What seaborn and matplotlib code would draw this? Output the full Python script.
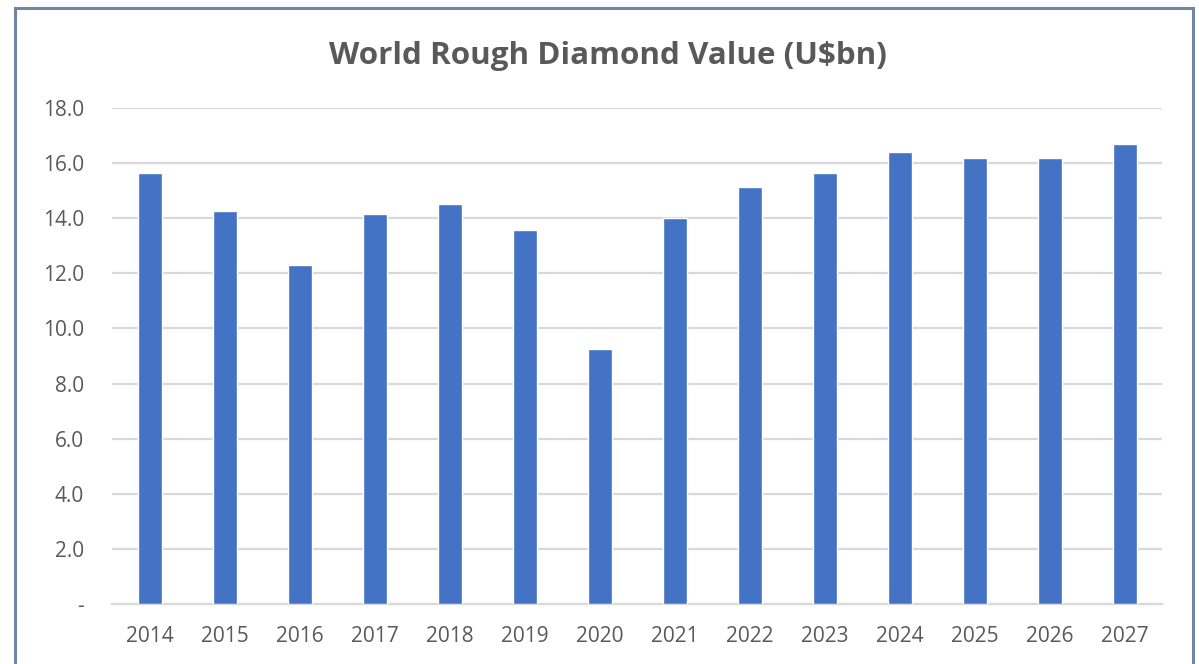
import matplotlib
matplotlib.use("Agg")
import matplotlib.pyplot as plt
import seaborn as sns
import pandas as pd
from matplotlib.patches import Rectangle

years = ["2014", "2015", "2016", "2017", "2018", "2019", "2020",
         "2021", "2022", "2023", "2024", "2025", "2026", "2027"]
values = [15.62, 14.24, 12.29, 14.13, 14.51, 13.58, 9.26,
          14.00, 15.11, 15.62, 16.40, 16.17, 16.17, 16.69]
y_ticks = [0, 2, 4, 6, 8, 10, 12, 14, 16, 18]
y_labels = ["-", "2.0", "4.0", "6.0", "8.0", "10.0", "12.0", "14.0", "16.0", "18.0"]

sns.set_theme(style="white")
plt.rcParams["font.family"] = ["Open Sans", "DejaVu Sans"]

W, H = 1199, 664
fig = plt.figure(figsize=(W / 100, H / 100), dpi=100)
ax = fig.add_axes([112 / W, (H - 604.4) / H, (1162 - 112) / W, (604.4 - 107.7) / H])

df = pd.DataFrame({"year": years, "value": values})
sns.barplot(data=df, x="year", y="value", color="#4472C4", saturation=1,
            width=0.32, ax=ax, zorder=3)

ax.set_ylim(0, 18)
ax.set_xlim(-0.5, len(years) - 0.5)
ax.set_yticks(y_ticks)
ax.set_yticklabels(y_labels)
ax.yaxis.grid(True, color="#d9d9d9", linewidth=1.6, zorder=0)
ax.xaxis.grid(False)
for s in ["left", "right", "top"]:
    ax.spines[s].set_visible(False)
ax.spines["bottom"].set_color("#d9d9d9")
ax.spines["bottom"].set_linewidth(1.6)
ax.tick_params(axis="y", length=0, pad=20, labelsize=15, labelcolor="#595959")
ax.tick_params(axis="x", length=0, pad=15.5, labelsize=15, labelcolor="#595959")
ax.set_xlabel("")
ax.set_ylabel("")

fig.text(607.5 / W, 1 - 64 / H, "World Rough Diamond Value (U$bn)", ha="center", va="baseline",
         fontsize=22.6, fontweight="bold", color="#595959")

fig.patches.append(Rectangle((15 / W, -0.05), (1193 - 15) / W, (H - 8) / H + 0.05,
                             transform=fig.transFigure, fill=False,
                             edgecolor="#6f87a5", linewidth=2.2, zorder=10))

fig.savefig("out.png", dpi=100, facecolor="white")
